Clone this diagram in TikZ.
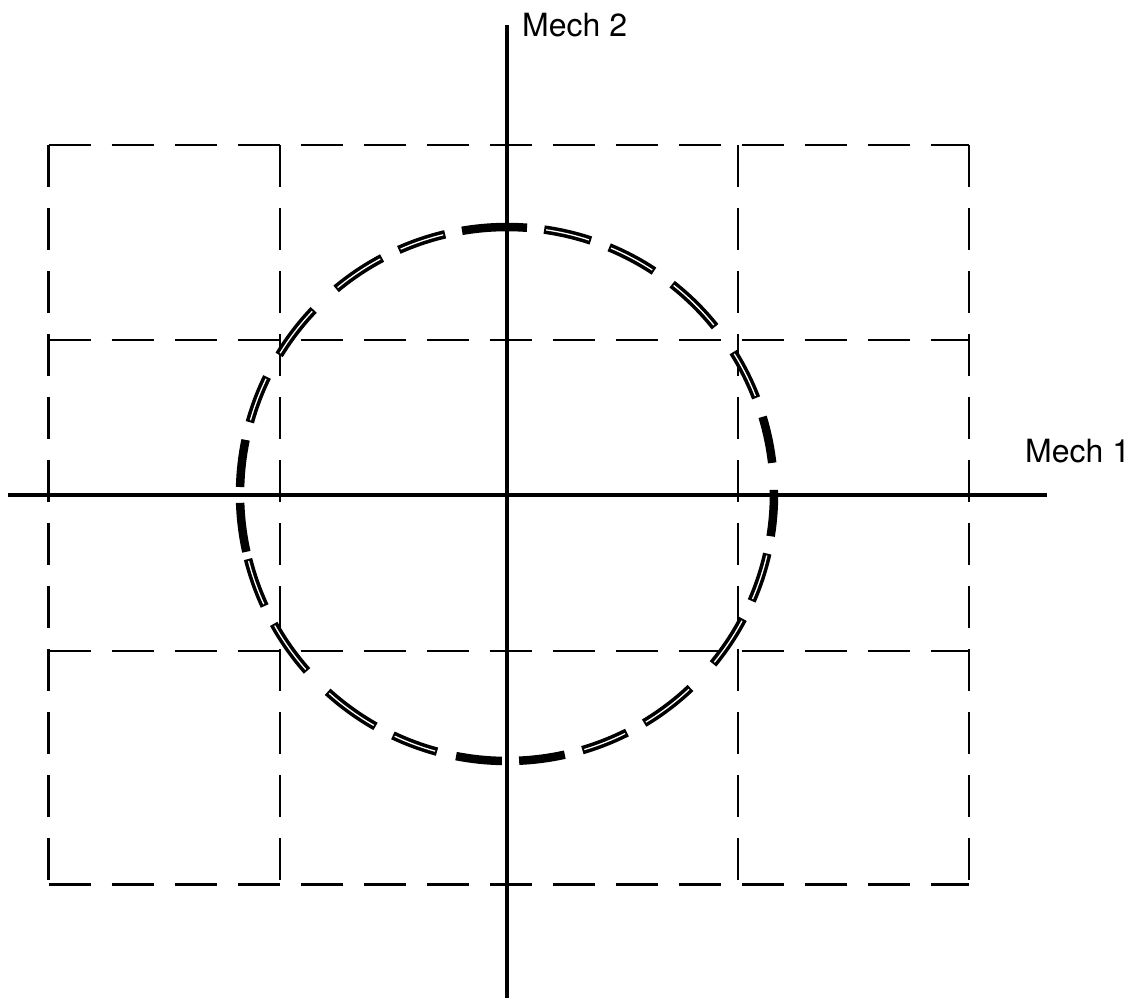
\documentclass[tikz,border=0pt]{standalone}
\usepackage{fontspec}
\setmainfont{TeX Gyre Heros}
\usetikzlibrary{positioning}

\begin{document}
\begin{tikzpicture}[
  x=1pt, y=-1pt,
  font=\fontsize{32}{38}\selectfont,
  axis/.style={line width=3.2pt},
  gridline/.style={line width=2.7pt, dash pattern=on 42pt off 21pt},
  trace/.style={line width=8.5pt},
  hollow/.style={trace, postaction={draw, white, line width=1.3pt, shorten >=2pt, shorten <=2pt}},
  axlabel/.style={inner sep=0pt}
]
\useasboundingbox (0,0) rectangle (1139,1001);

% axes
\coordinate (xleft) at (8,495);
\coordinate (xright) at (1047,495);
\coordinate (ytop) at (507,25);
\coordinate (ybot) at (507,998);
\coordinate (origin) at (507,494);

\draw[axis] (xleft) -- (xright);
\draw[axis] (ytop) -- (ybot);

\node[axlabel, right=15pt of ytop] (mech2) {Mech 2};
\node[axlabel, above right=32pt and -22pt of xright] (mech1) {Mech 1};

% dashed boxes
\foreach \gx in {48.5,280,738,969}
  \draw[gridline] (\gx,145) -- (\gx,884.5);
\foreach \gy in {145,340,651,884.5}
  \draw[gridline] (48.5,\gy) -- (969,\gy);

% circle, drawn dash by dash (angles run clockwise, y is flipped)
\foreach \a/\b in {-0.9/9.1, 343.2/353.3, 260.3/274.3, 181.5/191.7,
                   167.5/178.1, 91.1/101, 77.5/87.4}
  \draw[trace] ([shift={(\a:267)}]origin) arc[start angle=\a, end angle=\b, radius=267];
\foreach \a/\b in {327.9/338.9, 308.2/321.2, 292.5/303.4, 278/288.3,
                   246.1/256.6, 230.2/242.1, 211.4/223.6, 195.6/206,
                   155.2/165.9, 138.5/150.9, 119.5/132.2, 105.2/115.3,
                   63.3/73.6, 46.6/59.1, 27.9/39.5, 12.9/23.6}
  \draw[hollow] ([shift={(\a:267)}]origin) arc[start angle=\a, end angle=\b, radius=267];

\end{tikzpicture}
\end{document}
